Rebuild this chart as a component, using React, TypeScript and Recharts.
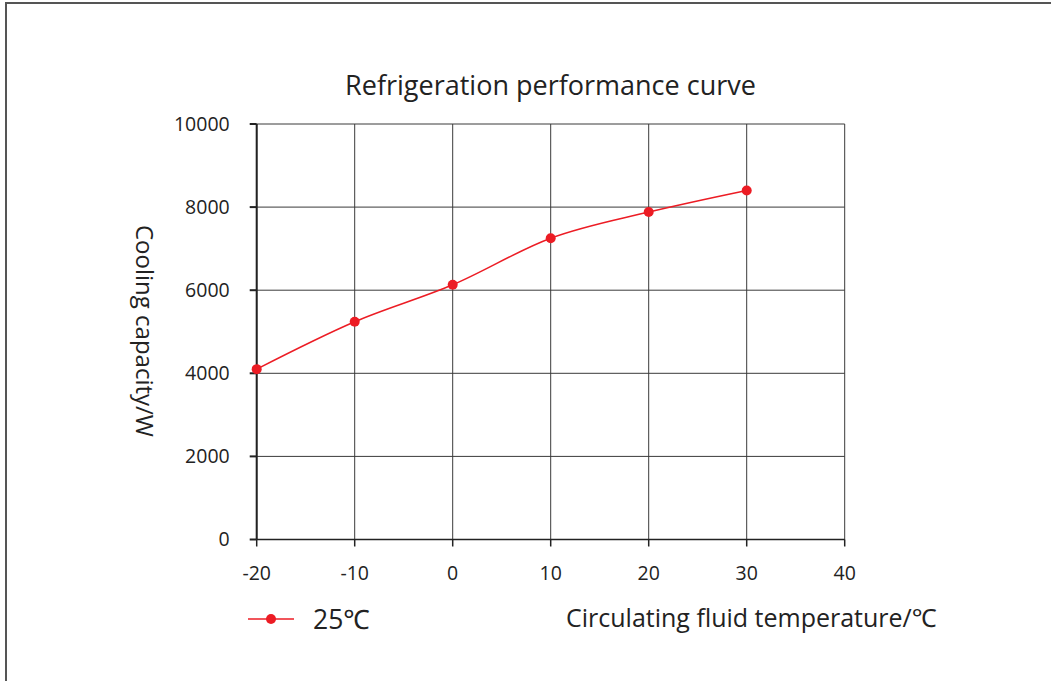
import React from "react";
import { LineChart, Line, XAxis, YAxis, CartesianGrid } from "recharts";

const temperatures = [-20, -10, 0, 10, 20, 30];
const capacity25 = [4100, 5240, 6130, 7250, 7880, 8400];
const xTicks = [-20, -10, 0, 10, 20, 30, 40];
const yTicks = [0, 2000, 4000, 6000, 8000, 10000];

const data = temperatures.map((t, i) => ({ t, c25: capacity25[i] }));

const RED = "#ec1c24";
const FONT = "'Open Sans', 'Noto Sans', sans-serif";

export default function App() {
  return (
    <div style={{ position: "absolute", left: 0, top: 0, width: 1051, height: 681, background: "#fff", overflow: "hidden" }}>
      <div
        style={{
          position: "absolute",
          left: 5,
          top: 2,
          width: 1100,
          height: 700,
          borderTop: "2px solid #555",
          borderLeft: "2px solid #555",
        }}
      />
      <div
        style={{
          position: "absolute",
          left: 200,
          width: 701,
          top: 66,
          textAlign: "center",
          fontFamily: FONT,
          fontSize: 27,
          color: "#222",
          whiteSpace: "nowrap",
        }}
      >
        Refrigeration performance curve
      </div>
      <div
        style={{
          position: "absolute",
          left: 566,
          top: 600,
          fontFamily: FONT,
          fontSize: 25,
          color: "#222",
          whiteSpace: "nowrap",
        }}
      >
        Circulating fluid temperature/℃
      </div>
      <div
        style={{
          position: "absolute",
          left: 248,
          top: 601,
          display: "flex",
          alignItems: "center",
          fontFamily: FONT,
        }}
      >
        <svg width={46} height={14}>
          <line x1={0} y1={7} x2={46} y2={7} stroke={RED} strokeWidth={1.5} />
          <circle cx={23} cy={7} r={5} fill={RED} />
        </svg>
        <span style={{ marginLeft: 19, fontSize: 26.5, color: "#222" }}>25℃</span>
      </div>
      <LineChart
        width={1051}
        height={681}
        data={data}
        margin={{ top: 124, right: 206.3, bottom: 111.5, left: 196.7 }}
        style={{ position: "absolute", left: 0, top: 0 }}
      >
        <CartesianGrid stroke="#3a3a3a" strokeWidth={1} horizontal vertical />
        <XAxis
          dataKey="t"
          type="number"
          domain={[-20, 40]}
          ticks={xTicks}
          height={30}
          tickSize={7}
          tickMargin={20}
          stroke="#222"
          strokeWidth={1.5}
          tick={{ fill: "#222", fontSize: 19.5, fontFamily: FONT }}
        />
        <YAxis
          type="number"
          domain={[0, 10000]}
          ticks={yTicks}
          width={60}
          tickSize={7}
          tickMargin={20}
          stroke="#222"
          strokeWidth={2}
          tick={{ fill: "#222", fontSize: 19.5, fontFamily: FONT }}
          label={() => (
            <text
              x={145}
              y={331}
              transform="rotate(90 145 331)"
              textAnchor="middle"
              dominantBaseline="central"
              fontSize={24}
              fontFamily={FONT}
              fill="#222"
            >
              Cooling capacity/W
            </text>
          )}
        />
        <Line
          dataKey="c25"
          name="25℃"
          type="monotone"
          stroke={RED}
          strokeWidth={1.5}
          dot={{ r: 5, fill: RED, stroke: RED, strokeWidth: 0 }}
          isAnimationActive={false}
        />
      </LineChart>
    </div>
  );
}
